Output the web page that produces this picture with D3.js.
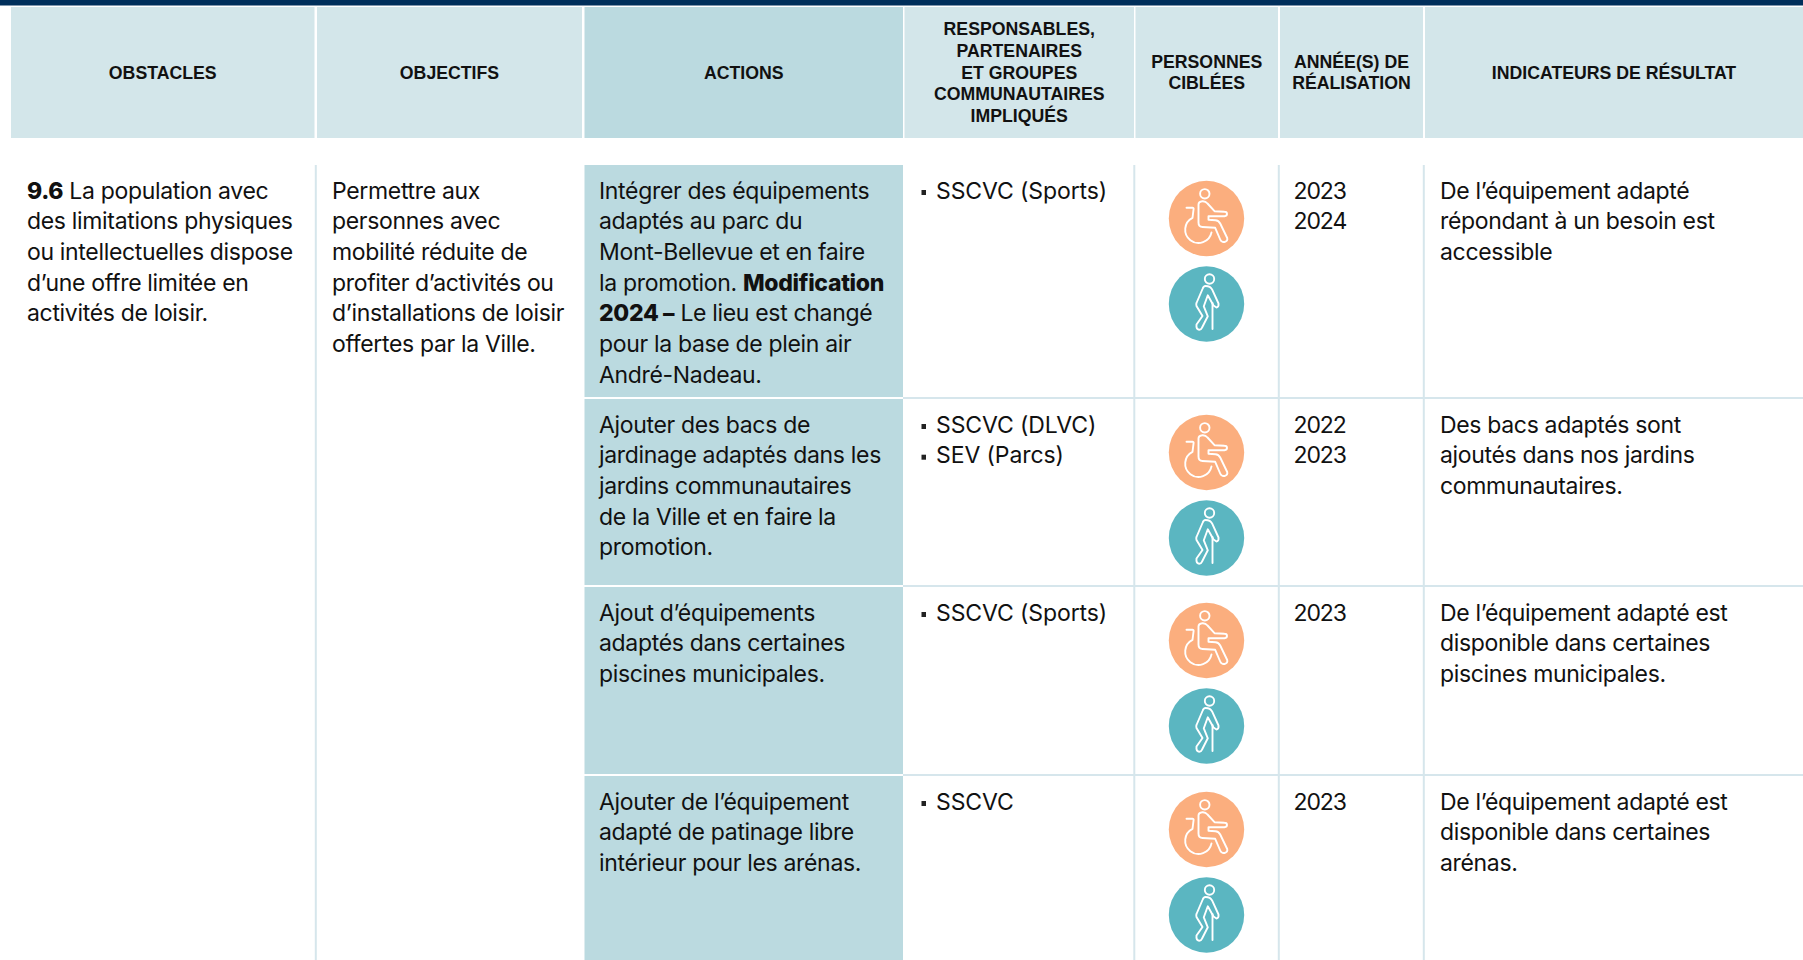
<!DOCTYPE html>
<html>
<head>
<meta charset="utf-8">
<script src="https://cdn.jsdelivr.net/npm/d3@7"></script>
<style>
  html, body { margin: 0; padding: 0; background: #fff; overflow: hidden; }
  text { font-family: Inter, sans-serif; fill: #111; }
  .head { font-family: "Liberation Sans", Arial, sans-serif; font-weight: 700; font-size: 17.7px; fill: #111; text-anchor: middle; }
  .cell { font-size: 23px; letter-spacing: -0.33px; }
  .year { letter-spacing: -1.1px; }
  .resp { letter-spacing: -0.1px; }
</style>
</head>
<body>
<svg id="chart" width="1803" height="960"></svg>
<script>
// table content
var headers = [
    ['OBSTACLES'],
    ['OBJECTIFS'],
    ['ACTIONS'],
    ['RESPONSABLES,', 'PARTENAIRES', 'ET GROUPES', 'COMMUNAUTAIRES', 'IMPLIQUÉS'],
    ['PERSONNES', 'CIBLÉES'],
    ['ANNÉE(S) DE', 'RÉALISATION'],
    ['INDICATEURS DE RÉSULTAT']
]
var obstacle = ['<b>9.6</b> La population avec', 'des limitations physiques', 'ou intellectuelles dispose', 'd’une offre limitée en', 'activités de loisir.']
var objectif = ['Permettre aux', 'personnes avec', 'mobilité réduite de', 'profiter d’activités ou', 'd’installations de loisir', 'offertes par la Ville.']
var actions = [
    ['Intégrer des équipements', 'adaptés au parc du', 'Mont-Bellevue et en faire', 'la promotion. <b>Modification</b>', '<b>2024 –</b> Le lieu est changé', 'pour la base de plein air', 'André-Nadeau.'],
    ['Ajouter des bacs de', 'jardinage adaptés dans les', 'jardins communautaires', 'de la Ville et en faire la', 'promotion.'],
    ['Ajout d’équipements', 'adaptés dans certaines', 'piscines municipales.'],
    ['Ajouter de l’équipement', 'adapté de patinage libre', 'intérieur pour les arénas.']
]
var responsables = [
    ['SSCVC (Sports)'],
    ['SSCVC (DLVC)', 'SEV (Parcs)'],
    ['SSCVC (Sports)'],
    ['SSCVC']
]
var annees = [
    ['2023', '2024'],
    ['2022', '2023'],
    ['2023'],
    ['2023']
]
var indicateurs = [
    ['De l’équipement adapté', 'répondant à un besoin est', 'accessible'],
    ['Des bacs adaptés sont', 'ajoutés dans nos jardins', 'communautaires.'],
    ['De l’équipement adapté est', 'disponible dans certaines', 'piscines municipales.'],
    ['De l’équipement adapté est', 'disponible dans certaines', 'arénas.']
]

// layout
var colLeft =  [11, 317, 584.5, 904.5, 1135.5, 1280, 1425]
var colRight = [314.5, 582, 903, 1134, 1278, 1423, 1803]
var rowTop =    [165, 399, 587, 776]
var rowBottom = [397, 585, 774, 960]
var lineH = 30.7
var colorHead = '#d3e6ea'
var colorAction = '#bbdae0'
var colorLine = '#d6e6ec'
var colorOrange = '#fbae7e'
var colorTeal = '#5bb6c1'

var svg = d3.select('#chart')

svg.append('rect').attr('x', 0).attr('y', 0).attr('width', 1803).attr('height', 5.5).attr('fill', '#002f5b')

// header cells
var head = svg.selectAll('g.headcell').data(headers).join('g').attr('class', 'headcell')
head.append('rect')
    .attr('x', (d, i) => colLeft[i])
    .attr('y', 7)
    .attr('width', (d, i) => colRight[i] - colLeft[i])
    .attr('height', 131)
    .attr('fill', (d, i) => i == 2 ? colorAction : colorHead)
head.each(function(lines, i) {
    var cx = (colLeft[i] + colRight[i]) / 2
    d3.select(this).selectAll('text').data(lines).join('text')
        .attr('class', 'head')
        .attr('x', cx)
        .attr('y', (d, j) => 78.5 + (j - (lines.length - 1) / 2) * 21.6)
        .text(d => d)
})

// body rules and action cells
var rules = [colLeft[1], colLeft[4], colLeft[5], colLeft[6]]
svg.selectAll('rect.vrule').data(rules).join('rect').attr('class', 'vrule')
    .attr('x', d => d - 2.2).attr('y', 165).attr('width', 2).attr('height', 795).attr('fill', colorLine)
svg.selectAll('rect.hrule').data(rowBottom.slice(0, 3)).join('rect').attr('class', 'hrule')
    .attr('x', colRight[2]).attr('y', d => d).attr('width', 1803 - colRight[2]).attr('height', 2).attr('fill', colorLine)
svg.selectAll('rect.action').data(actions).join('rect').attr('class', 'action')
    .attr('x', colLeft[2]).attr('y', (d, i) => rowTop[i])
    .attr('width', colRight[2] - colLeft[2]).attr('height', (d, i) => rowBottom[i] - rowTop[i])
    .attr('fill', colorAction)

// text helper, <b> marks bold runs
function textBlock(lines, x, top, cls) {
    var t = svg.append('g').selectAll('text').data(lines).join('text')
        .attr('class', 'cell ' + (cls || ''))
        .attr('x', x)
        .attr('y', (d, j) => top + 33.5 + j * lineH)
    t.each(function(d) {
        var node = d3.select(this)
        d.split(/(<b>.*?<\/b>)/).filter(s => s).forEach(s => {
            var bold = s.startsWith('<b>')
            node.append('tspan').attr('font-weight', bold ? 800 : 400).text(s.replace(/<\/?b>/g, ''))
        })
    })
}

textBlock(obstacle, 27, rowTop[0])
textBlock(objectif, 332, rowTop[0])
rowTop.forEach((top, i) => {
    textBlock(actions[i], 599, top)
    textBlock(annees[i], 1293.5, top, 'year')
    textBlock(indicateurs[i], 1440, top)
    textBlock(responsables[i], 936, top, 'resp')
    svg.append('g').selectAll('rect').data(responsables[i]).join('rect')
        .attr('x', 921.5).attr('y', (d, j) => top + 25 + j * lineH).attr('width', 4.5).attr('height', 5).attr('fill', '#222')
})

// icons, drawn in a box centred on the circle
function iconStroke(g) {
    return g.append('g').attr('fill', 'none').attr('stroke', '#fff').attr('stroke-width', 1.9)
        .attr('stroke-linejoin', 'round').attr('stroke-linecap', 'round')
}
function wheelchair(g) {
    g.append('circle').attr('r', 37.7).attr('fill', colorOrange)
    var s = iconStroke(g)
    s.append('circle').attr('cx', -1.7).attr('cy', -24.7).attr('r', 4.7)
    s.append('path').attr('d', 'M-8-14V4Q-8 8.5-4 8.5L8.7 9.3L13.7 21Q15 24 18 23.5Q21.5 22.5 20.7 19.5L13.7 5Q12 2 9 1.7L2 1.3V-2.3L18-2.3Q20.5-2.5 20.5-4.5Q20.5-6.7 18-6.7L8-7.3L1-15Q-1-17.5-4-17.3Q-8-17-8-14Z')
    s.append('path').attr('d', 'M-20-10.7H-14Q-12.7-10.7-12.9-9.5L-14-0.7A13.3 13.3 0 1 0 5 14')
}
function walker(g) {
    g.append('circle').attr('r', 37.7).attr('fill', colorTeal)
    var s = iconStroke(g)
    s.append('circle').attr('cx', 3).attr('cy', -25).attr('r', 4.7)
    s.append('path').attr('d', 'M-1-18Q-3-18-4-15L-10-1Q-10.5 0-10 2L-4 12L-10 20.5Q-10.5 25-7.7 25.7Q-5.5 26-4.3 23.3L1.3 12.3L-2.7 2.3L1.3-8.7L7 1.5L10 3.5Q12.5 3 12-0.5L5.7-14.3Q4-18-1-18Z')
    s.append('path').attr('d', 'M6-1V25')
}
rowTop.forEach((top, i) => {
    var cx = 1206.5
    wheelchair(svg.append('g').attr('transform', `translate(${cx},${top + 53.5})`))
    walker(svg.append('g').attr('transform', `translate(${cx},${top + 139})`))
})
</script>
</body>
</html>
